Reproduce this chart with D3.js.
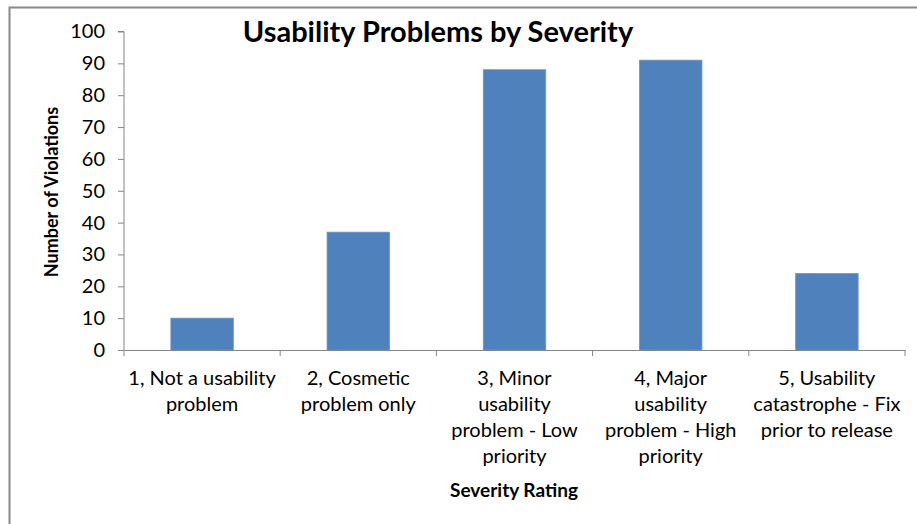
<!DOCTYPE html>
<html><head><meta charset="utf-8">
<script src="https://cdn.jsdelivr.net/npm/d3@7"></script>
<style>body{margin:0;background:#fff}svg{display:block}text{font-family:Lato,"Open Sans",sans-serif}</style>
</head><body>
<svg id="c" width="917" height="524"></svg>
<script>
const categories = ["1","2","3","4","5"];
const categoryLabels = [
  ["1, Not a usability","problem"],
  ["2, Cosmetic","problem only"],
  ["3, Minor","usability","problem - Low","priority"],
  ["4, Major","usability","problem - High","priority"],
  ["5, Usability","catastrophe - Fix","prior to release"]
];
const values = [10, 37, 88, 91, 24];
const yTicks = [0,10,20,30,40,50,60,70,80,90,100];
const title = "Usability Problems by Severity";
const yTitle = "Number of Violations";
const xTitle = "Severity Rating";

const svg = d3.select("#c");
// outer border
svg.append("rect").attr("x",9.5).attr("y",7.5).attr("width",940).attr("height",600)
  .attr("fill","none").attr("stroke","#888").attr("stroke-width",2);

const pLeft=124, pRight=905, pTop=31.5, pBottom=350;
const x = d3.scaleBand().domain(categories).range([pLeft,pRight]).paddingInner(0.6).paddingOuter(0.3);
const xb = d3.scaleBand().domain(categories).range([pLeft,pRight]);
const y = d3.scaleLinear().domain([0,100]).range([pBottom,pTop]);

// y axis
const ya = svg.append("g").attr("transform",`translate(${pLeft},0)`)
  .call(d3.axisLeft(y).tickValues(yTicks).tickSize(6).tickPadding(13).tickFormat(d3.format("d")));
ya.select(".domain").attr("stroke","#868686").attr("d",`M-6,${y(100)}H0V${pBottom}`);
ya.selectAll(".tick line").attr("stroke","#868686");
ya.selectAll(".tick text").attr("fill","#000").style("font-size","20px").style("font-family","Lato,sans-serif");

// bars
svg.selectAll("rect.bar").data(values).join("rect").attr("class","bar")
  .attr("x",(d,i)=>x(categories[i])).attr("width",x.bandwidth())
  .attr("y",d=>y(d)).attr("height",d=>pBottom-y(d))
  .attr("fill","#4F81BD").attr("stroke","#6a96cc").attr("stroke-width",0.8);

// x axis
const xa = svg.append("g").attr("transform",`translate(0,${pBottom})`)
  .call(d3.axisBottom(xb).tickSize(0).tickFormat(""));
xa.select(".domain").attr("stroke","#868686");
const bounds = categories.map(c=>xb(c)).concat([pRight]);
xa.selectAll("line.sep").data(bounds).join("line").attr("class","sep")
  .attr("x1",d=>d).attr("x2",d=>d).attr("y1",0).attr("y2",6).attr("stroke","#868686");

// category labels
categories.forEach((c,i)=>{
  const t = svg.append("text").attr("text-anchor","middle")
    .attr("x", xb(c)+xb.bandwidth()/2).attr("y",385)
    .style("font-size","20px").attr("fill","#000");
  categoryLabels[i].forEach((ln,j)=>{
    t.append("tspan").attr("x", xb(c)+xb.bandwidth()/2).attr("y",385+j*26).text(ln);
  });
});

// titles
svg.append("text").attr("x",438).attr("y",42).attr("text-anchor","middle")
  .style("font-size","29px").style("font-weight","bold").text(title);
svg.append("text").attr("transform","translate(58,192) rotate(-90)").attr("text-anchor","middle")
  .style("font-size","18px").style("font-weight","bold").text(yTitle);
svg.append("text").attr("x",514).attr("y",497).attr("text-anchor","middle")
  .style("font-size","19px").style("font-weight","bold").text(xTitle);
</script>
</body></html>
